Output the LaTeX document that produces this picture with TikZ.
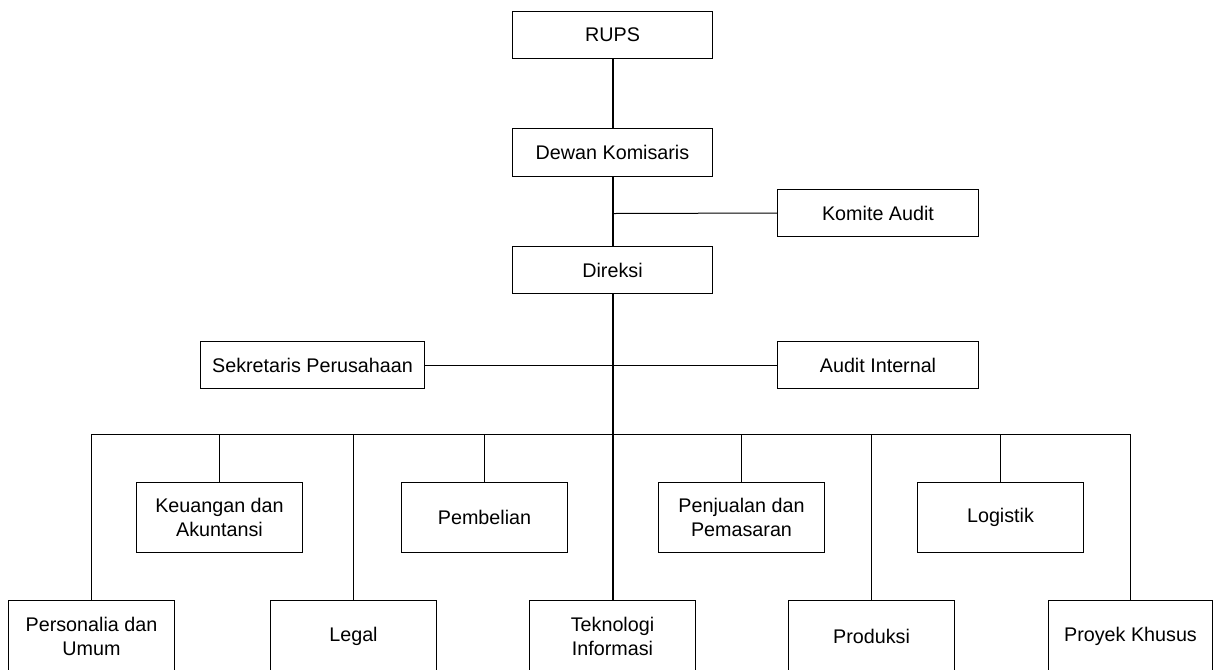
\documentclass[tikz,border=0pt]{standalone}
\usepackage{fontspec}
\setmainfont{Liberation Sans}
\begin{document}
\begin{tikzpicture}[x=0.75pt,y=-0.75pt,
  box/.style={draw=black,line width=0.75pt,fill=white,align=center,inner sep=0pt,
    font=\fontsize{14.8}{18.5}\selectfont},
  topbox/.style={box,minimum width=150pt,minimum height=35.25pt},
  sidebox/.style={box,minimum width=150.75pt,minimum height=35.25pt},
  midbox/.style={box,minimum width=124.5pt,minimum height=52.5pt},
  lowbox/.style={box,minimum width=124.5pt,minimum height=54pt},
  conn/.style={draw=black,line width=0.75pt},
  spine/.style={draw=black,line width=1.5pt}]
\useasboundingbox (0,0) rectangle (1213,669);
\clip (0,0) rectangle (1213,669);
% top chain
\node[topbox] (rups) at (612.5,35) {RUPS};
\node[box,minimum width=150pt,minimum height=36pt] (dewan) at (612.5,152.5) {Dewan Komisaris};
\node[topbox] (direksi) at (612.5,270) {Direksi};
\node[sidebox] (komite) at (878,213) {Komite Audit};
\node[box,minimum width=168pt,minimum height=35.25pt] (sek) at (312.5,365) {Sekretaris Perusahaan};
\node[sidebox] (audit) at (878,365) {Audit Internal};
% row 2
\node[midbox] (keu) at (219.5,517.5) {Keuangan dan\\Akuntansi};
\node[midbox] (pemb) at (484.5,517.5) {Pembelian};
\node[midbox] (penj) at (741.5,517.5) {Penjualan dan\\Pemasaran};
\node[midbox] (log) at (1000.5,517.5) {Logistik};
% row 3
\node[lowbox] (pers) at (91.5,636.5) {Personalia dan\\Umum};
\node[lowbox] (legal) at (353.5,636.5) {Legal};
\node[lowbox] (tek) at (612.5,636.5) {Teknologi\\Informasi};
\node[lowbox] (prod) at (871.5,636.5) {Produksi};
\node[box,minimum width=123pt,minimum height=54pt] (proy) at (1130.5,636.5) {Proyek Khusus};
% coordinates
\coordinate (kj) at (613,213.5);
\coordinate (bL) at (91.5,434.5);
\coordinate (bR) at (1130.5,434.5);
% spine
\draw[spine] (613,0 |- rups.south) -- (613,0 |- dewan.north);
\draw[spine] (613,0 |- dewan.south) -- (613,0 |- direksi.north);
\draw[spine] (613,0 |- direksi.south) -- (613,0 |- tek.north);
% side branches
\draw[conn] (kj) -- (komite.west);
\draw[conn] (sek.east) -- (audit.west);
% bus
\draw[conn] (pers.north) -- (bL) -- (bR) -- (proy.north);
\draw[conn] (keu.north) -- (keu.north |- bL);
\draw[conn] (pemb.north) -- (pemb.north |- bL);
\draw[conn] (penj.north) -- (penj.north |- bL);
\draw[conn] (log.north) -- (log.north |- bL);
\draw[conn] (legal.north) -- (legal.north |- bL);
\draw[conn] (prod.north) -- (prod.north |- bL);
\end{tikzpicture}
\end{document}
